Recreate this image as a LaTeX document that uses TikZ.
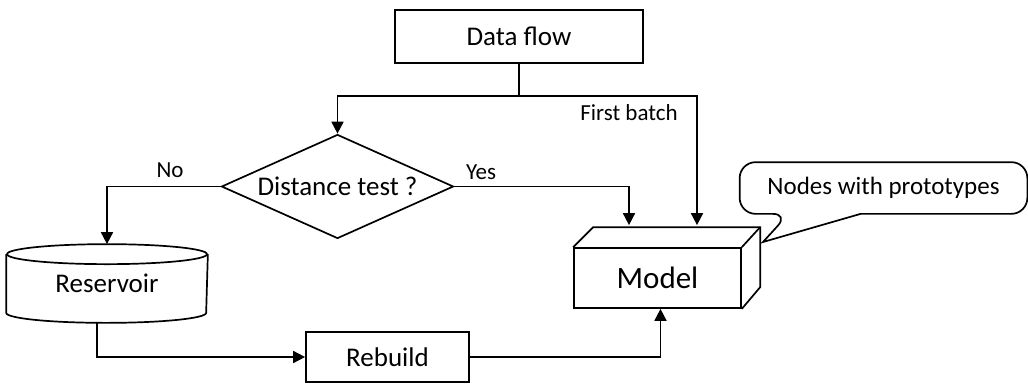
\documentclass[tikz,border=0pt]{standalone}
\usepackage{fontspec}
\setmainfont{Carlito}
\usetikzlibrary{shapes.geometric,arrows.meta,calc}
\begin{document}
\begin{tikzpicture}[x=1pt,y=-1pt,
  line width=1.7pt,
  box/.style={draw, rectangle, inner sep=0pt, font=\fontsize{27}{32}\selectfont},
  lbl/.style={inner sep=0pt, font=\fontsize{23}{28}\selectfont},
  arr/.style={-{Triangle[length=12pt,width=12pt]}}]
\useasboundingbox (0,0) rectangle (1028,384);

% blocks
\node[box, minimum width=248pt, minimum height=53pt] (df) at (519,36.5) {Data flow};
\node[box, diamond, aspect=2.2, minimum width=232pt, minimum height=104pt] (dist) at (337.5,186.5) {Distance test ?};
\node[inner sep=0pt, minimum width=200pt, minimum height=57pt, font=\fontsize{27}{32}\selectfont] (res) at (107,283.5) {Reservoir};
\node[box, minimum width=163pt, minimum height=50pt] (reb) at (387.5,357) {Rebuild};
\node[box, minimum width=167pt, minimum height=60pt, font=\fontsize{31}{36}\selectfont] (model) at (657.5,278) {Model};
\node[inner sep=0pt, minimum width=286pt, minimum height=50pt, font=\fontsize{25}{30}\selectfont] (note) at (883.5,188) {Nodes with prototypes};

% reservoir drum
\draw (res.north) ellipse [x radius=100pt, y radius=10pt];
\draw (res.north west) -- (res.south west)
      arc [start angle=180, end angle=360, x radius=100pt, y radius=10pt]
      -- (res.north east);

% model block depth
\draw (model.north west) -- ++(20,-20) -- ++(167,0) coordinate (mbk) -- ++(0,60) -- (model.south east);
\draw (model.north east) -- (mbk);

% callout
\draw ($(note.south west)+(121,0)$) [rounded corners=16pt] -- (note.south east) -- (note.north east)
      -- (note.north west) -- (note.south west) -- ($(note.south west)+(49,0)$)
      [sharp corners] -- (763,242) -- cycle;

% connectors
\draw (df.south) -- ++(0,32) coordinate (split);
\draw[arr] (split) -| (dist.north);
\draw[arr] (split) -| ([xshift=39.5pt,yshift=22pt]model.north);
\draw[arr] (dist.east) -| ([xshift=-28.5pt,yshift=22pt]model.north);
\draw[arr] (dist.west) -| ([yshift=10pt]res.north);
\draw[arr] ([xshift=-10pt,yshift=-10pt]res.south) |- (reb.west);
\draw[arr] (reb.east) -| ([xshift=3pt]model.south);

% labels
\node[lbl] (no) at (170,170) {No};
\node[lbl] (yes) at (481,172) {Yes};
\node[lbl] (fb) at (629,113) {First batch};
\end{tikzpicture}
\end{document}
